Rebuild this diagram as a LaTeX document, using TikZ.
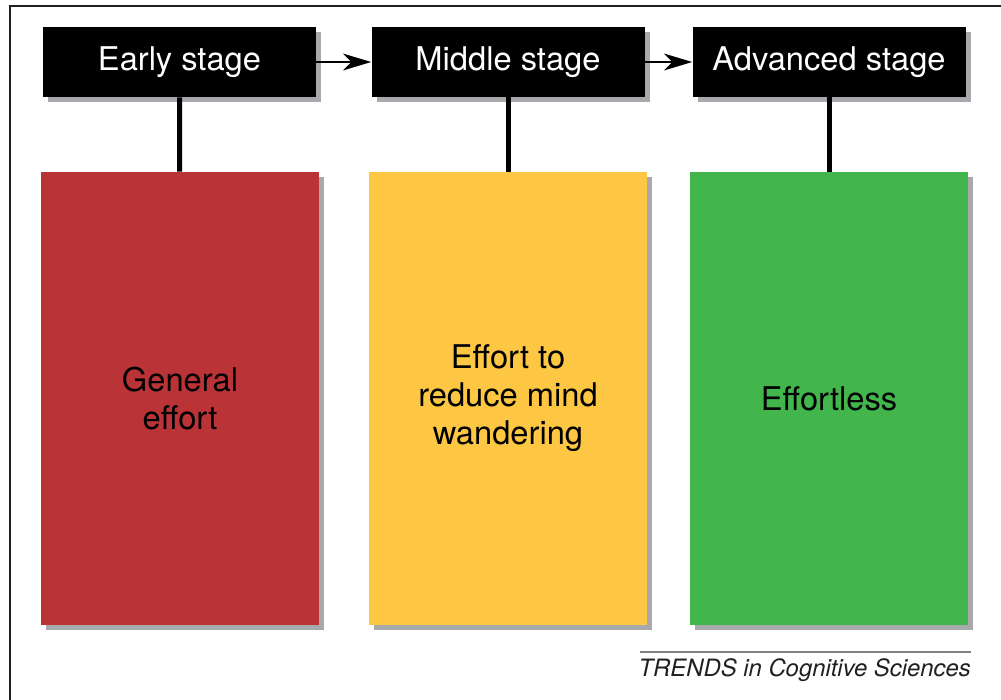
\documentclass[tikz,border=0pt]{standalone}
\usepackage{fontspec}
\setmainfont{TeX Gyre Heros}
\usetikzlibrary{arrows.meta,shadows}
\definecolor{shadowgray}{HTML}{A7A9AC}
\definecolor{earlyred}{HTML}{BA3437}
\definecolor{middleyellow}{HTML}{FDC743}
\definecolor{advgreen}{HTML}{42B64D}
\definecolor{creditgray}{HTML}{231F20}
\begin{document}
\begin{tikzpicture}[x=0.75pt, y=-0.75pt, stage/.style={rectangle, fill=black, text=white, minimum width=204.75pt, minimum height=52.5pt, inner sep=0pt, font=\fontsize{24.5}{28.5}\selectfont, drop shadow={shadow xshift=3.75pt, shadow yshift=-3.75pt, fill=shadowgray, opacity=1}}, effect/.style={rectangle, fill=#1, text=black, minimum width=208.5pt, minimum height=339.75pt, inner sep=0pt, align=center, font=\fontsize{24.5}{28.5}\selectfont, drop shadow={shadow xshift=3.75pt, shadow yshift=-3.75pt, fill=shadowgray, opacity=1}}]

\useasboundingbox (0,0) rectangle (1001,700);
\draw[line width=1.5pt, color=creditgray] (1010,6) -| (10,710);

\node [stage] (ES) at (179.5, 62){Early stage};
\node [stage] (MS) at (508, 62){Middle stage};
\node [stage] (AS) at (829, 62){Advanced stage};
\node [effect=earlyred] (GE) at (180, 398.5){General\\effort};
\node [effect=middleyellow] (RW) at (508, 398.5){Effort to\\reduce mind\\wandering};
\node [effect=advgreen] (EL) at (829, 398.5){Effortless};

\draw[-{Stealth[length=21pt,width=12.5pt,inset=6pt]},line width=2.2pt] (ES) -- (MS);
\draw[-{Stealth[length=21pt,width=12.5pt,inset=6pt]},line width=2.2pt] (MS) -- (AS);
\draw[line width=3.75pt] (ES) -- (GE);
\draw[line width=3.75pt] (MS) -- (RW);
\draw[line width=3.75pt] (AS) -- (EL);

\node [anchor=base east, inner sep=0pt, text=creditgray, font=\fontsize{17.9}{21}\selectfont\itshape] (TC) at (971, 676){TRENDS in Cognitive Sciences};
\draw[line width=0.8pt, color=gray] (640,652) -- (971,652);

\end{tikzpicture}
\end{document}
